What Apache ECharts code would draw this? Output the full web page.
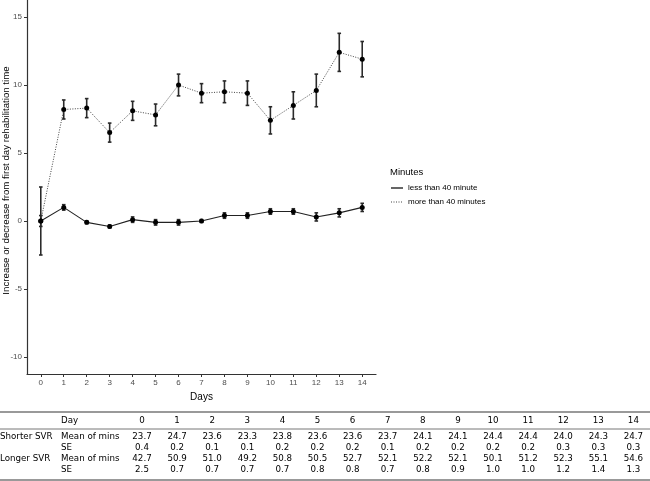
<!DOCTYPE html>
<html>
<head>
<meta charset="utf-8">
<script src="https://cdn.jsdelivr.net/npm/echarts@6/dist/echarts.min.js"></script>
<style>html,body{margin:0;padding:0;background:#fff}#c{width:650px;height:481px}</style>
</head>
<body>
<div id="c"></div>
<script>
var days = [0,1,2,3,4,5,6,7,8,9,10,11,12,13,14];
var shorterChange = [0,1.0,-0.1,-0.4,0.1,-0.1,-0.1,0.0,0.4,0.4,0.7,0.7,0.3,0.6,1.0];
var longerChange = [0,8.2,8.3,6.5,8.1,7.8,10.0,9.4,9.5,9.4,7.4,8.5,9.6,12.4,11.9];
var shorterMean = ['23.7','24.7','23.6','23.3','23.8','23.6','23.6','23.7','24.1','24.1','24.4','24.4','24.0','24.3','24.7'];
var shorterSE = ['0.4','0.2','0.1','0.1','0.2','0.2','0.2','0.1','0.2','0.2','0.2','0.2','0.3','0.3','0.3'];
var longerMean = ['42.7','50.9','51.0','49.2','50.8','50.5','52.7','52.1','52.2','52.1','50.1','51.2','52.3','55.1','54.6'];
var longerSE = ['2.5','0.7','0.7','0.7','0.7','0.8','0.8','0.7','0.8','0.9','1.0','1.0','1.2','1.4','1.3'];
var yTicks = [-10,-5,0,5,10,15];
var seriesNames = ['less than 40 minute','more than 40 minutes'];
var yTitle = 'Increase or decrease from first day rehabilitation time';

function pairs(vals){ return days.map(function(d,i){ return [d, vals[i]]; }); }
function errData(vals, se){ return days.map(function(d,i){ var s=parseFloat(se[i]); return [d, vals[i]-s, vals[i]+s]; }); }

function errRender(params, api){
  var x = api.value(0), lo = api.value(1), hi = api.value(2);
  var p1 = api.coord([x, lo]), p2 = api.coord([x, hi]);
  var w = 1.8;
  var st = {stroke:'#2a2a2a', lineWidth:1.6};
  return {type:'group', children:[
    {type:'line', shape:{x1:p1[0],y1:p1[1],x2:p2[0],y2:p2[1]}, style:st},
    {type:'line', shape:{x1:p1[0]-w,y1:p1[1],x2:p1[0]+w,y2:p1[1]}, style:st},
    {type:'line', shape:{x1:p2[0]-w,y1:p2[1],x2:p2[0]+w,y2:p2[1]}, style:st}
  ]};
}

var graphics = [];
// y axis title
graphics.push({type:'text', x:6, y:180.5, rotation:Math.PI/2, style:{text:yTitle, font:'9.7px "Liberation Sans", Arial, sans-serif', fill:'#000', align:'center', verticalAlign:'middle'}});
// legend
graphics.push({type:'text', x:390, y:172, style:{text:'Minutes', font:'9.5px "Liberation Sans", Arial, sans-serif', fill:'#000', verticalAlign:'middle'}});
graphics.push({type:'line', shape:{x1:391,y1:188,x2:403,y2:188}, style:{stroke:'#000', lineWidth:1.2}});
graphics.push({type:'text', x:408, y:188, style:{text:seriesNames[0], font:'8px "Liberation Sans", Arial, sans-serif', fill:'#000', verticalAlign:'middle'}});
graphics.push({type:'line', shape:{x1:391,y1:202,x2:403,y2:202}, style:{stroke:'#444', lineWidth:1, lineDash:[1,1.5]}});
graphics.push({type:'text', x:408, y:202, style:{text:seriesNames[1], font:'8px "Liberation Sans", Arial, sans-serif', fill:'#000', verticalAlign:'middle'}});

// table
var tf = '8.7px "DejaVu Sans", Verdana, sans-serif';
graphics.push({type:'line', shape:{x1:0,y1:412,x2:650,y2:412}, style:{stroke:'#777', lineWidth:1.5}});
graphics.push({type:'line', shape:{x1:0,y1:429,x2:650,y2:429}, style:{stroke:'#777', lineWidth:1}});
graphics.push({type:'line', shape:{x1:0,y1:480,x2:650,y2:480}, style:{stroke:'#777', lineWidth:1.5}});
var rowY = [421, 437, 448, 459, 470];
function txt(t, x, y, align){
  graphics.push({type:'text', x:x, y:y, style:{text:t, font:tf, fill:'#000', align:align||'left', verticalAlign:'middle'}});
}
txt('Day', 61, rowY[0]);
txt('Shorter SVR', 0, rowY[1]);
txt('Mean of mins', 61, rowY[1]);
txt('SE', 61, rowY[2]);
txt('Longer SVR', 0, rowY[3]);
txt('Mean of mins', 61, rowY[3]);
txt('SE', 61, rowY[4]);
days.forEach(function(d,i){
  var cx = 142 + i*35.1;
  txt(String(d), cx, rowY[0], 'center');
  txt(shorterMean[i], cx, rowY[1], 'center');
  txt(shorterSE[i], cx, rowY[2], 'center');
  txt(longerMean[i], cx, rowY[3], 'center');
  txt(longerSE[i], cx, rowY[4], 'center');
});

var chart = echarts.init(document.getElementById('c'), null, {renderer:'canvas'});
chart.setOption({
  animation:false,
  backgroundColor:'#fff',
  grid:{left:27, right:274, top:0, bottom:107, containLabel:false, outerBoundsMode:'none'},
  xAxis:{
    type:'value', min:-0.6, max:14.6,
    name:'Days', nameLocation:'middle', nameGap:16,
    nameTextStyle:{fontSize:10, color:'#000', fontFamily:'Liberation Sans'},
    splitLine:{show:false},
    axisLine:{onZero:false, lineStyle:{color:'#333', width:1.2}},
    axisTick:{length:3, lineStyle:{color:'#333'}, customValues:days},
    axisLabel:{fontSize:8, color:'#4d4d4d', margin:5, fontFamily:'Liberation Sans', customValues:days}
  },
  yAxis:{
    type:'value', min:-11.25, max:16.25,
    splitLine:{show:false},
    axisLine:{show:true, onZero:false, lineStyle:{color:'#333', width:1.2}},
    axisTick:{show:true, length:3, lineStyle:{color:'#333'}, customValues:yTicks},
    axisLabel:{fontSize:8, color:'#4d4d4d', margin:5, fontFamily:'Liberation Sans', customValues:yTicks}
  },
  graphic:graphics,
  series:[
    {name:seriesNames[1], type:'line', data:pairs(longerChange), symbol:'circle', symbolSize:5,
     itemStyle:{color:'#000'}, lineStyle:{color:'#444', width:1, type:[1,1.5]}, z:3},
    {name:seriesNames[0], type:'line', data:pairs(shorterChange), symbol:'circle', symbolSize:5,
     itemStyle:{color:'#000'}, lineStyle:{color:'#222', width:1.1}, z:3},
    {type:'custom', renderItem:errRender, data:errData(longerChange, longerSE), encode:{x:0, y:[1,2]}, z:2},
    {type:'custom', renderItem:errRender, data:errData(shorterChange, shorterSE), encode:{x:0, y:[1,2]}, z:2}
  ]
});
</script>
</body>
</html>
